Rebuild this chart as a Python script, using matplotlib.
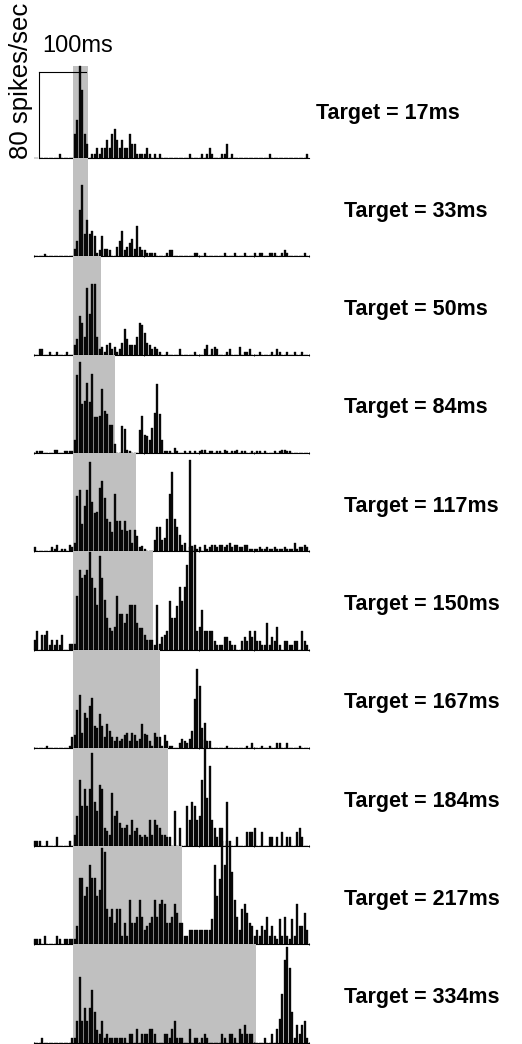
import numpy as np
import matplotlib
matplotlib.use("Agg")
import matplotlib.pyplot as plt

plt.rcParams['font.family'] = ['Liberation Sans', 'DejaVu Sans']

# ---- data (spikes/sec per bin, 110 bins over 0-500 ms) ----
targets = ["17ms", "33ms", "50ms", "84ms", "117ms", "150ms", "167ms", "184ms", "217ms", "334ms"]
gray_start_ms = 72.4
gray_end_ms = [99, 99, 123, 148, 186, 217, 230, 244, 270, 404]

p1 = [0,0,0,0,0,0,0,0,0,0,
      4,0,0,0,0,0,22,35,85,63,
      22,13,0,4,4,9,4,9,9,17,
      9,22,27,17,9,17,9,9,22,13,
      13,4,4,4,4,9,4,0,4,0,
      4,0,0,0,0,0,0,0,0,0,
      0,0,4,0,0,0,0,4,0,4,
      9,4,0,0,0,4,4,13,0,4,
      0,0,0,0,0,0,0,0,0,0,
      0,0,0,0,4,0,0,0,0,0,
      0,0,0,0,0,0,0,0,0,4]
p2 = [0,0,0,0,2,0,0,0,0,0,
      0,0,0,0,0,0,7,14,43,66,
      21,34,21,23,19,3,6,19,7,7,
      6,0,0,9,14,23,6,9,12,16,
      7,28,9,6,6,3,3,3,3,0,
      0,0,0,3,6,6,0,0,0,0,
      0,0,0,0,3,3,0,0,3,0,
      0,0,0,0,0,0,3,0,0,0,
      3,0,0,0,3,0,0,0,3,0,
      3,3,0,0,3,3,3,0,0,3,
      6,3,0,0,0,0,0,0,3,0]
p3 = [0,0,5,5,0,0,2,0,0,2,
      0,0,0,2,0,0,9,14,36,29,
      16,62,38,65,65,16,5,7,2,9,
      11,5,7,2,5,11,24,14,9,9,
      9,16,29,27,20,11,9,5,7,5,
      2,0,0,2,0,0,0,0,5,0,
      0,0,0,0,2,0,0,0,5,9,
      0,5,7,5,0,0,0,2,5,0,
      0,0,7,0,2,2,5,0,0,0,
      2,0,0,0,0,2,0,5,2,0,
      0,2,0,0,2,0,0,2,0,0]
p4 = [0,2,2,2,0,0,0,0,3,3,
      0,0,2,2,2,2,12,72,84,45,
      48,65,47,73,33,33,34,59,39,36,
      26,26,8,0,0,25,22,3,2,0,
      0,0,21,34,17,16,12,23,37,64,
      36,12,2,2,2,0,5,2,0,0,
      2,0,2,0,2,0,2,3,3,0,
      2,2,0,2,2,0,3,2,0,2,
      2,3,0,2,2,0,0,2,0,2,
      2,0,2,0,0,0,2,0,2,3,
      3,2,2,0,0,0,0,0,0,0]
p5 = [4,0,0,0,0,0,0,4,2,6,
      0,2,2,0,6,4,8,51,57,25,
      42,57,83,46,35,36,59,65,49,30,
      27,18,53,28,28,20,28,19,20,8,
      20,14,4,5,2,0,0,0,10,22,
      22,10,12,30,53,73,30,22,15,6,
      8,0,85,5,6,2,4,0,6,2,
      4,6,6,4,6,6,4,6,8,4,
      6,6,4,4,6,6,2,2,2,2,
      4,2,2,4,2,2,4,2,2,2,
      4,2,2,2,8,2,4,4,6,4]
p6 = [9,17,0,13,13,17,4,9,4,9,
      4,13,0,0,5,5,5,50,74,66,
      69,74,90,66,57,41,87,66,46,29,
      20,17,21,50,33,33,25,33,41,41,
      41,25,20,20,13,9,9,9,4,41,
      5,12,13,17,45,29,29,40,58,45,
      58,78,95,95,92,17,21,37,17,17,
      17,17,8,4,4,4,12,12,8,4,
      4,0,0,8,12,8,17,12,17,8,
      8,4,4,25,4,12,8,21,4,0,
      8,8,4,4,8,8,0,17,8,4]
p7 = [0,0,0,0,0,2,0,0,0,0,
      0,0,0,0,2,10,12,35,49,14,
      32,28,39,46,20,18,31,20,10,22,
      16,10,6,10,6,8,12,14,6,14,
      12,6,8,22,13,12,6,2,14,10,
      10,2,12,6,2,2,0,0,4,8,
      6,4,8,16,45,73,57,18,23,6,
      6,0,0,0,0,0,0,2,0,0,
      0,0,0,0,0,2,0,4,0,0,
      0,2,0,0,2,0,0,4,4,0,
      0,4,0,0,0,0,2,0,0,0]
p8 = [5,5,5,0,0,5,0,0,0,8,
      0,0,0,0,5,0,10,28,61,37,
      53,37,53,86,41,33,57,53,17,14,
      10,49,28,33,21,17,17,20,10,24,
      14,17,10,8,10,8,24,10,24,20,
      17,10,10,8,8,0,33,0,17,0,
      0,37,24,41,37,24,28,61,98,45,
      74,24,17,8,17,17,0,41,0,0,
      0,8,0,0,0,13,13,13,17,0,
      0,13,0,0,8,8,0,8,0,13,
      0,8,8,0,0,13,17,8,0,0]
p9 = [5,5,5,0,8,0,0,0,0,8,
      5,0,5,5,5,5,5,17,62,62,
      45,53,74,62,62,45,50,89,86,33,
      25,33,20,33,33,8,20,8,41,20,
      20,25,41,25,13,17,20,25,41,25,
      37,41,37,20,20,25,37,29,20,20,
      8,8,13,13,13,13,13,13,13,13,
      13,24,74,45,61,96,74,96,96,67,
      41,25,13,33,37,29,20,17,8,13,
      8,17,13,25,8,17,8,5,24,8,
      25,8,5,24,8,37,17,17,29,13]
p10 = [0,0,0,4,0,0,0,0,0,0,
       0,0,0,0,0,4,4,20,61,20,
       32,20,32,49,28,12,8,20,4,8,
       4,4,4,4,4,4,4,0,8,8,
       0,13,0,8,8,8,13,13,8,0,
       0,0,8,8,4,13,20,4,4,4,
       0,0,13,0,4,4,0,4,8,4,
       0,0,0,0,0,8,4,0,8,8,
       4,0,13,8,16,8,8,8,0,0,
       0,0,4,0,0,8,0,13,22,45,
       77,89,69,28,4,16,8,16,20,4]
panels = [p1, p2, p3, p4, p5, p6, p7, p8, p9, p10]

t_max = 500.0
n_bins = 110
scale_x_ms = [10.5, 95.5]
scale_y = 80

# ---- layout ----
W, H = 522, 1044
fig = plt.figure(figsize=(W / 100, H / 100), dpi=100)
left_px, right_px = 33.5, 308.5
first_base, step = 158.0, 98.3
px_per_unit = 86.3 / 80.0

edges = np.linspace(0, t_max, n_bins + 1)
bw = edges[1] - edges[0]

for k, vals in enumerate(panels):
    base = first_base + step * k
    top = 66.0 if k == 0 else base - step
    hpx = base - top
    ax = fig.add_axes([left_px / W, 1 - base / H, (right_px - left_px) / W, hpx / H])
    ax.set_xlim(0, t_max)
    ax.set_ylim(0, hpx / px_per_unit)
    ax.axvspan(gray_start_ms, gray_end_ms[k], color='#c0c0c0', lw=0, zorder=0)
    ax.bar(edges[:-1], vals, width=bw * 0.9, align='edge', color='#0a0a0a',
           edgecolor='black', lw=0.25, zorder=2, clip_on=False)
    for s in ['top', 'right', 'left']:
        ax.spines[s].set_visible(False)
    ax.spines['bottom'].set_linewidth(0.8)
    ax.spines['bottom'].set_zorder(3)
    if k == 0:
        ax.spines['bottom'].set_bounds(scale_x_ms[0], t_max)
        ax.set_xticks([])
        ax.plot([scale_x_ms[0], scale_x_ms[0]], [0, scale_y], color='black', lw=0.8,
                clip_on=False, zorder=4)
        ax.plot(scale_x_ms, [scale_y, scale_y], color='black', lw=0.8,
                clip_on=False, zorder=4)
    else:
        ax.set_xticks(np.arange(0, t_max + 1, 100))
    ax.set_xticklabels([])
    ax.tick_params(axis='x', length=2, width=0.6, direction='inout')
    ax.set_yticks([])
    ax.patch.set_alpha(0)
    fig.text(344 / W if k else 316 / W, 1 - (base - 45) / H, "Target = " + targets[k],
             fontsize=15.5, fontweight='bold', ha='left', va='center')

fig.text(42 / W, 1 - 52 / H, "100ms", fontsize=17, ha='left', va='baseline')
fig.text(21 / W, 1 - 159 / H, "80 spikes/sec", fontsize=18.5, rotation=90,
         ha='center', va='bottom')

fig.savefig("out.png", dpi=100)
